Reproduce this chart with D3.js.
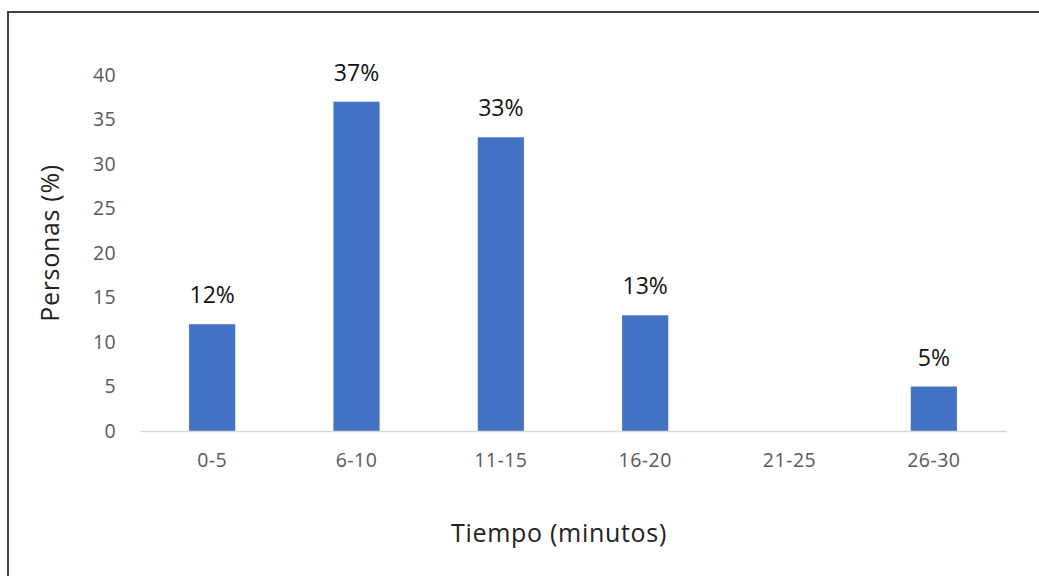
<!DOCTYPE html>
<html>
<head>
<meta charset="utf-8">
<script src="https://cdn.jsdelivr.net/npm/d3@7"></script>
<style>
  html, body { margin: 0; padding: 0; background: #fff; }
  svg { display: block; }
</style>
</head>
<body>
<svg id="chart" width="1039" height="576"></svg>
<script>
// Tiempo de traslado: porcentaje de personas por intervalo de minutos
const categories = ["0-5", "6-10", "11-15", "16-20", "21-25", "26-30"];
const values = [12, 37, 33, 13, null, 5];
const yTicks = [0, 5, 10, 15, 20, 25, 30, 35, 40];

const svg = d3.select("#chart");
const W = 1039, H = 576;
const font = "'Open Sans', Lato, 'DejaVu Sans', sans-serif";

// outer frame
svg.append("rect")
  .attr("x", 8).attr("y", 12)
  .attr("width", W + 20).attr("height", H + 20)
  .attr("fill", "#fff")
  .attr("stroke", "#404040")
  .attr("stroke-width", 2);

const plot = { left: 140, right: 1006, top: 75, bottom: 431 };

const x = d3.scaleBand()
  .domain(categories)
  .range([plot.left, plot.right])
  .paddingInner(0.68)
  .paddingOuter(0.34);

const y = d3.scaleLinear()
  .domain([0, 40])
  .range([plot.bottom, plot.top]);

// y axis labels (no line, no ticks)
const yAxis = d3.axisLeft(y).tickValues(yTicks).tickSize(0).tickPadding(0);
const gy = svg.append("g")
  .attr("transform", `translate(${plot.left - 24},0)`)
  .call(yAxis);
gy.select(".domain").remove();
gy.selectAll("text")
  .attr("fill", "#595959")
  .style("font-family", font)
  .style("font-size", "19.5px")
  .style("letter-spacing", "0.3px");

// bars
svg.append("g").selectAll("rect")
  .data(categories.map((c, i) => ({ c, v: values[i] })).filter(d => d.v != null))
  .join("rect")
  .attr("x", d => x(d.c))
  .attr("width", x.bandwidth())
  .attr("y", d => y(d.v))
  .attr("height", d => y(0) - y(d.v))
  .attr("fill", "#4472c4");

// x axis
const xAxis = d3.axisBottom(x).tickSize(0).tickPadding(22);
const gx = svg.append("g")
  .attr("transform", `translate(0,${plot.bottom})`)
  .call(xAxis);
gx.select(".domain").attr("stroke", "#d9d9d9").attr("stroke-width", 1.5);
gx.selectAll("text")
  .attr("fill", "#595959")
  .style("font-family", font)
  .style("font-size", "19.5px")
  .style("letter-spacing", "0.5px");

// data labels
svg.append("g").selectAll("text")
  .data(categories.map((c, i) => ({ c, v: values[i] })).filter(d => d.v != null))
  .join("text")
  .attr("x", d => x(d.c) + x.bandwidth() / 2)
  .attr("y", d => y(d.v) - 21)
  .attr("text-anchor", "middle")
  .attr("fill", "#111")
  .style("font-family", font)
  .style("font-size", "23px")
  .text(d => d.v + "%");

// axis titles
svg.append("text")
  .attr("transform", "translate(59,243) rotate(-90)")
  .attr("text-anchor", "middle")
  .attr("fill", "#222")
  .style("font-family", font)
  .style("font-size", "25px")
  .style("letter-spacing", "0.7px")
  .text("Personas (%)");

svg.append("text")
  .attr("x", 559)
  .attr("y", 542)
  .attr("text-anchor", "middle")
  .attr("fill", "#222")
  .style("font-family", font)
  .style("font-size", "25px")
  .style("letter-spacing", "0.7px")
  .text("Tiempo (minutos)");
</script>
</body>
</html>
